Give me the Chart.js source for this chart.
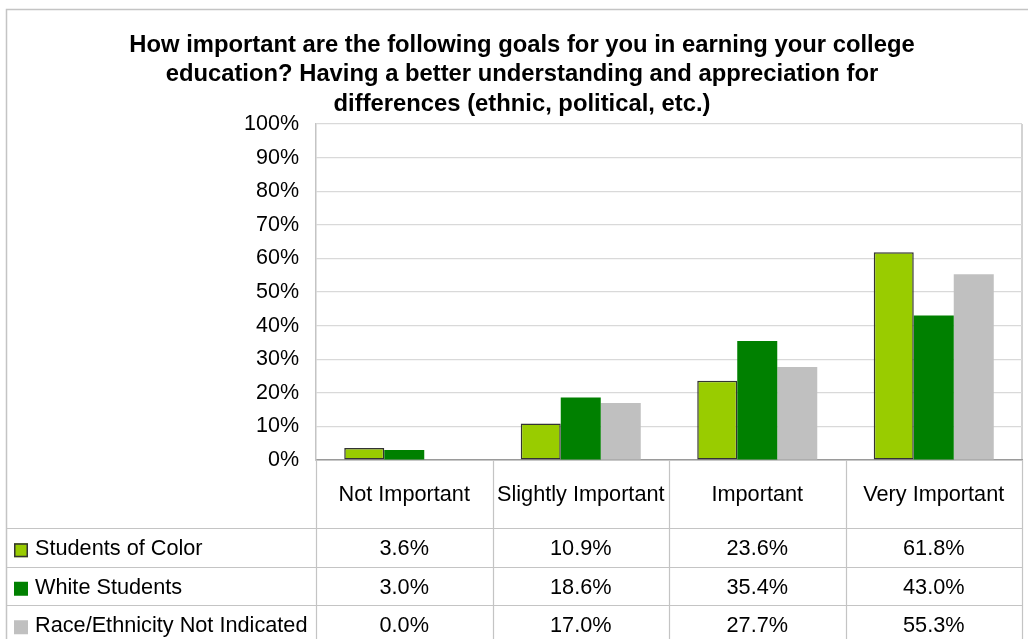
<!DOCTYPE html>
<html>
<head>
<meta charset="utf-8">
<script src="https://cdn.jsdelivr.net/npm/chart.js@4/dist/chart.umd.min.js"></script>
<style>
html, body { margin: 0; padding: 0; background: #fff; }
#wrap { width: 1028px; height: 639px; position: relative; }
</style>
</head>
<body>
<div id="wrap"><canvas id="goalsChart"></canvas></div>
<script>
// Data
const categories = ['Not Important', 'Slightly Important', 'Important', 'Very Important'];
const seriesNames = ['Students of Color', 'White Students', 'Race/Ethnicity Not Indicated'];
const studentsOfColor = [3.6, 10.9, 23.6, 61.8];
const whiteStudents = [3.0, 18.6, 35.4, 43.0];
const notIndicated = [0.0, 17.0, 27.7, 55.3];
const titleLines = [
    'How important are the following goals for you in earning your college',
    'education? Having a better understanding and appreciation for',
    'differences (ethnic, political, etc.)'
];

const colors = {
    lime: '#99CC00',
    green: '#008000',
    grey: '#C0C0C0',
    text: '#000000',
    grid: '#d9d9d9',
    frame: '#c4c4c4',
    axis: '#9a9a9a'
};
const FONT = '"Liberation Sans", Arial, sans-serif';

const seriesData = [studentsOfColor, whiteStudents, notIndicated];
const seriesColors = [colors.lime, colors.green, colors.grey];

// Outer frame + title + right border of plot area
const framePlugin = {
    id: 'frame',
    beforeDraw(chart) {
        const { ctx, chartArea: a } = chart;
        ctx.save();
        ctx.strokeStyle = colors.frame;
        ctx.lineWidth = 1.5;
        ctx.strokeRect(6.5, 9.5, 1040, 700);
        ctx.beginPath();
        ctx.moveTo(a.right, a.top);
        ctx.lineTo(a.right, a.bottom);
        ctx.stroke();
        ctx.fillStyle = colors.text;
        ctx.font = 'bold 23.8px ' + FONT;
        ctx.textAlign = 'center';
        ctx.textBaseline = 'middle';
        titleLines.forEach((line, i) => ctx.fillText(line, 522, 45 + i * 29.5));
        ctx.restore();
    }
};

// Data table under the plot
const tablePlugin = {
    id: 'dataTable',
    afterDraw(chart) {
        const { ctx, chartArea: a, scales: { x } } = chart;
        const colW = (a.right - a.left) / categories.length;
        const left = 7;
        const headerBottom = 528;
        const rowH = 38.5;
        const bottom = 639;

        ctx.save();
        ctx.strokeStyle = colors.frame;
        ctx.lineWidth = 1.2;
        ctx.beginPath();
        // vertical lines
        for (let i = 0; i <= categories.length; i++) {
            const xx = Math.round(a.left + i * colW) + 0.5;
            ctx.moveTo(xx, a.bottom);
            ctx.lineTo(xx, bottom);
        }
        // horizontal row lines
        for (let r = 0; r < seriesNames.length; r++) {
            const yy = Math.round(headerBottom + r * rowH) + 0.5;
            ctx.moveTo(left, yy);
            ctx.lineTo(a.right, yy);
        }
        ctx.stroke();

        ctx.fillStyle = colors.text;
        ctx.textBaseline = 'middle';
        ctx.font = '21.7px ' + FONT;
        ctx.textAlign = 'center';
        categories.forEach((c, i) => {
            ctx.fillText(c, x.getPixelForValue(i), (a.bottom + headerBottom) / 2 + 1);
        });

        seriesNames.forEach((name, r) => {
            const cy = headerBottom + r * rowH + rowH / 2 + 2;
            // legend key
            ctx.fillStyle = seriesColors[r];
            ctx.fillRect(14, cy - 6, 14, 14);
            if (r === 0) {
                ctx.strokeStyle = '#333';
                ctx.lineWidth = 1.5;
                ctx.strokeRect(14.75, cy - 5.25, 12.5, 12.5);
            }
            ctx.fillStyle = colors.text;
            ctx.textAlign = 'left';
            ctx.fillText(name, 35, cy);
            ctx.textAlign = 'center';
            seriesData[r].forEach((v, i) => {
                ctx.fillText(v.toFixed(1) + '%', x.getPixelForValue(i), cy);
            });
        });
        ctx.restore();
    }
};

const ctx = document.getElementById('goalsChart').getContext('2d');
const chart = new Chart(ctx, {
    type: 'bar',
    data: {
        labels: categories,
        datasets: seriesNames.map((name, i) => ({
            label: name,
            data: seriesData[i],
            backgroundColor: seriesColors[i],
            borderColor: i === 0 ? '#333333' : seriesColors[i],
            borderWidth: i === 0 ? 1.5 : 0,
            borderSkipped: false,
            categoryPercentage: 0.68,
            barPercentage: 1.0
        }))
    },
    options: {
        responsive: true,
        maintainAspectRatio: false,
        animation: false,
        layout: { padding: { left: 7, right: 6, top: 124, bottom: 179 } },
        plugins: {
            legend: { display: false },
            title: { display: false },
            tooltip: { enabled: false }
        },
        scales: {
            x: {
                ticks: { display: false },
                grid: { display: false },
                border: { display: true, color: colors.axis, width: 1.5 },
                afterFit: s => { s.height = 0; }
            },
            y: {
                min: 0,
                max: 100,
                ticks: {
                    stepSize: 10,
                    color: colors.text,
                    font: { family: FONT, size: 21.5 },
                    padding: 17,
                    callback: v => v + '%'
                },
                grid: { color: colors.grid, lineWidth: 1.2, drawTicks: false },
                border: { display: true, color: colors.frame, width: 1.5 },
                afterFit: s => { s.width = 309; }
            }
        }
    },
    plugins: [framePlugin, tablePlugin]
});
</script>
</body>
</html>
